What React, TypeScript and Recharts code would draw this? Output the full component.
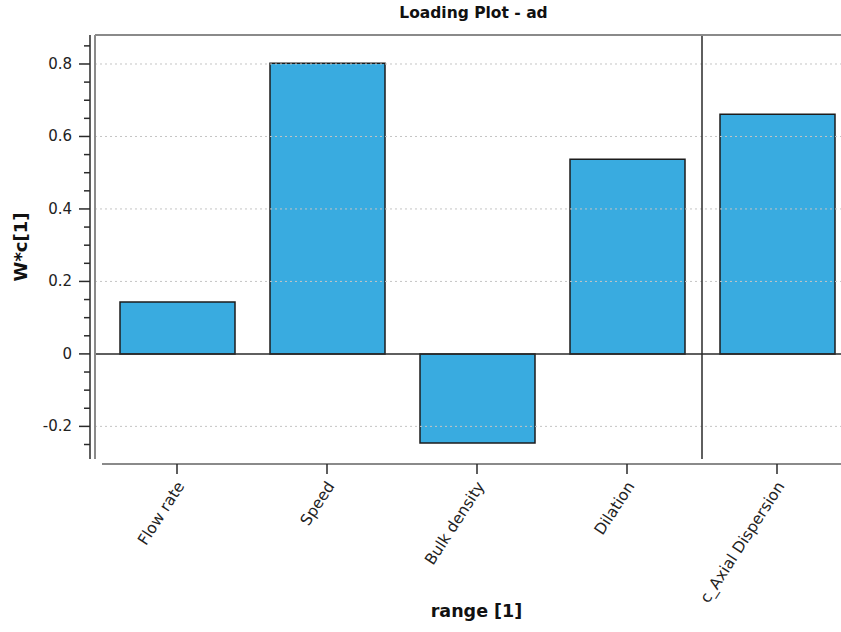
import React from 'react';
import { BarChart, Bar, XAxis, YAxis, ReferenceLine } from 'recharts';

// Loading plot values (W*c[1]) per variable
const categories = ['Flow rate', 'Speed', 'Bulk density', 'Dilation', 'c_Axial Dispersion'];
const loadings = [0.143, 0.802, -0.246, 0.537, 0.661];

// Y axis: labelled ticks, unlabelled minor ticks, dotted grid rows
const majorTicks = [-0.2, 0, 0.2, 0.4, 0.6, 0.8];
const yTicks = [-0.25, -0.2, -0.15, -0.1, -0.05, 0, 0.05, 0.1, 0.15, 0.2, 0.25, 0.3, 0.35, 0.4, 0.45, 0.5, 0.55, 0.6, 0.65, 0.7, 0.75, 0.8, 0.85];
const gridValues = [-0.2, 0.2, 0.4, 0.6, 0.8];
const yDomain: [number, number] = [-0.29, 0.88];

const data = categories.map((name, i) => ({ name, value: loadings[i] }));

const FONT = '"DejaVu Sans", Verdana, sans-serif';
const BAR_FILL = '#39abe0';
const DARK = '#2a2a2a';
const FRAME = '#8a8a8a';

const isMajor = (v: number) => majorTicks.some((m) => Math.abs(m - v) < 1e-9);

const YTick = (props: any) => {
  const { x, y, payload } = props;
  const major = isMajor(payload.value);
  return (
    <g>
      <line x1={x - (major ? 11 : 6)} x2={x} y1={y} y2={y} stroke={DARK} strokeWidth={1.5} />
      {major && (
        <text x={x - 18} y={y + 5} textAnchor="end" fontFamily={FONT} fontSize={15} fill="#222">
          {payload.value === 0 ? '0' : String(payload.value)}
        </text>
      )}
    </g>
  );
};

const XTick = (props: any) => {
  const { x, y, payload } = props;
  const ax = x + 8;
  const ay = y + 12;
  return (
    <text
      x={ax}
      y={ay}
      textAnchor="end"
      fontFamily={FONT}
      fontSize={15.5}
      fill="#222"
      transform={`rotate(-57, ${ax}, ${ay})`}
    >
      {payload.value}
    </text>
  );
};

export default function App() {
  return (
    <div
      style={{
        position: 'fixed',
        left: 0,
        top: 0,
        width: 841,
        height: 632,
        overflow: 'hidden',
        background: '#fff',
      }}
    >
      <div
        style={{
          position: 'absolute',
          left: 0,
          width: 947,
          top: 4,
          textAlign: 'center',
          fontFamily: FONT,
          fontWeight: 'bold',
          fontSize: 15.5,
          color: '#111',
        }}
      >
        Loading Plot - ad
      </div>
      <div
        style={{
          position: 'absolute',
          left: 0,
          width: 953,
          top: 601,
          textAlign: 'center',
          fontFamily: FONT,
          fontWeight: 'bold',
          fontSize: 17.5,
          color: '#111',
        }}
      >
        range [1]
      </div>
      <div
        style={{
          position: 'absolute',
          left: 20,
          top: 247,
          transform: 'translate(-50%, -50%) rotate(-90deg)',
          whiteSpace: 'nowrap',
          fontFamily: FONT,
          fontWeight: 'bold',
          fontSize: 18,
          color: '#111',
        }}
      >
        W*c[1]
      </div>
      <div style={{ position: 'absolute', left: 0, top: 0 }}>
        <BarChart
          width={870}
          height={632}
          data={data}
          margin={{ top: 0, right: 0, bottom: 0, left: 0 }}
        >
          <XAxis
            xAxisId="top"
            orientation="top"
            dataKey="name"
            height={35}
            tick={false}
            tickLine={false}
            axisLine={{ stroke: FRAME, strokeWidth: 2 }}
          />
          <XAxis
            xAxisId="gap"
            dataKey="name"
            height={5}
            tick={false}
            tickLine={false}
            axisLine={false}
          />
          <XAxis
            xAxisId="main"
            dataKey="name"
            height={168}
            interval={0}
            padding={{ left: 7, right: 18 }}
            tickSize={10}
            tickMargin={0}
            tickLine={{ stroke: DARK, strokeWidth: 1.5 }}
            axisLine={{ stroke: FRAME, strokeWidth: 2, strokeDasharray: '0 7 3000' }}
            tick={<XTick />}
          />
          <YAxis
            yAxisId="frame"
            type="number"
            domain={yDomain}
            allowDataOverflow
            width={5}
            tick={false}
            tickLine={false}
            axisLine={{ stroke: FRAME, strokeWidth: 2 }}
          />
          <YAxis
            yAxisId="val"
            type="number"
            domain={yDomain}
            allowDataOverflow
            ticks={yTicks}
            interval={0}
            width={90}
            tickSize={0}
            tickMargin={0}
            tickLine={false}
            axisLine={{ stroke: DARK, strokeWidth: 1.5 }}
            tick={<YTick />}
          />
          {gridValues.map((v) => (
            <ReferenceLine
              key={v}
              xAxisId="main"
              yAxisId="val"
              y={v}
              stroke="#c4c4c4"
              strokeWidth={1}
              strokeDasharray="2 3"
            />
          ))}
          <Bar
            xAxisId="main"
            yAxisId="val"
            dataKey="value"
            barSize={115}
            fill={BAR_FILL}
            stroke="#1c1c1c"
            strokeWidth={1.5}
            isAnimationActive={false}
          />
          <ReferenceLine xAxisId="main" yAxisId="val" y={0} stroke={DARK} strokeWidth={1.5} />
          <ReferenceLine
            xAxisId="main"
            yAxisId="val"
            x="c_Axial Dispersion"
            position="start"
            stroke={DARK}
            strokeWidth={1.5}
          />
        </BarChart>
      </div>
    </div>
  );
}
